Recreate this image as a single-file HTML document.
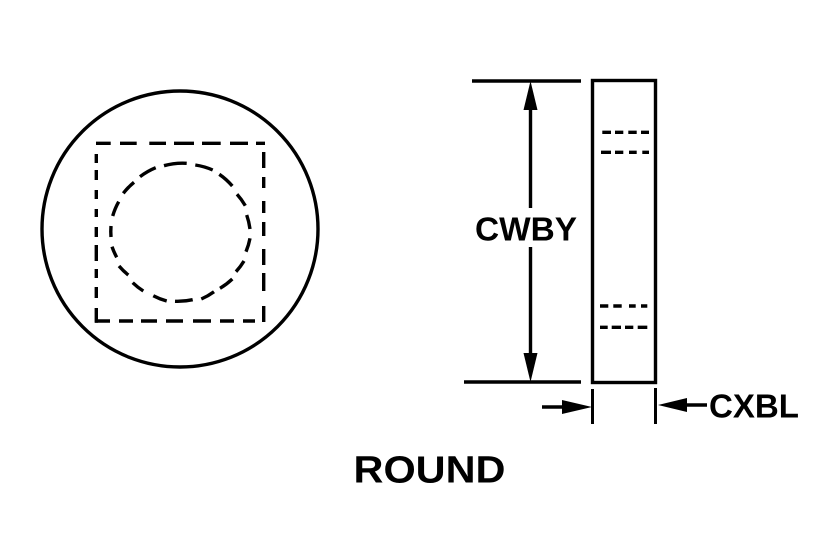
<!DOCTYPE html>
<html>
<head>
<meta charset="utf-8">
<style>
html,body{margin:0;padding:0;background:#fff;}
svg{display:block;}
text{font-family:"Liberation Sans",Arial,sans-serif;font-weight:bold;fill:#000;}
</style>
</head>
<body>
<svg width="828" height="560" viewBox="0 0 828 560" xmlns="http://www.w3.org/2000/svg">
<rect width="828" height="560" fill="#fff"/>
<g fill="none" stroke="#000">
<circle cx="180" cy="229" r="138" stroke-width="3.400"/>
<g stroke-width="3.400">
<path d="M96 143.300H110.700M120 143.300H136.700M149.300 143.300H166M174 143.300H194M202 143.300H220.700M230 143.300H248M256 143.300H265"/>
<path d="M96.300 154V163M96.300 170V180M96.300 190V199M96.300 209V217M96.300 227V237M96.300 245V261M96.300 269V278M96.300 287V298M96.300 308V322.700"/>
<path d="M263.700 152V168M263.700 177V188M263.700 201V213M263.700 222V236M263.700 249V265M263.700 273V291M263.700 306V322"/>
<path d="M95 321H110M119 321H133M141 321H157M166 321H183M193 321H211M220 321H234M243 321H255"/>
</g>
<g stroke-width="3.400">
<path d="M111 237A69 69 0 0 1 111 226"/>
<path d="M112.700 216A69 69 0 0 1 118.700 201.700"/>
<path d="M123.300 193.300A69 69 0 0 1 134 182.300"/>
<path d="M140 176.700A69 69 0 0 1 155.700 167.700"/>
<path d="M164 165.700A69 69 0 0 1 186.700 163.300"/>
<path d="M195.300 165A69 69 0 0 1 212.700 170"/>
<path d="M219.300 174.300A69 69 0 0 1 232.300 186"/>
<path d="M237 194.300A69 69 0 0 1 245.300 205.700"/>
<path d="M246.700 215A69 69 0 0 1 250 229"/>
<path d="M250 238.300A69 69 0 0 1 246 251.700"/>
<path d="M244 261A69 69 0 0 1 236 271.700"/>
<path d="M232.300 279A69 69 0 0 1 220 288.300"/>
<path d="M214 291.700A69 69 0 0 1 201.300 299"/>
<path d="M192.700 299.700A69 69 0 0 1 175 301.300"/>
<path d="M166.700 301A69 69 0 0 1 153.300 295.700"/>
<path d="M143.300 291A69 69 0 0 1 132.700 282.700"/>
<path d="M128.300 275A69 69 0 0 1 119 266"/>
<path d="M116.700 257.300A69 69 0 0 1 112 246.700"/>
</g>
<rect x="592.500" y="80.500" width="63" height="302" stroke-width="3.400"/>
<path d="M472 81H581M464 382H581" stroke-width="3.400"/>
<path d="M530.500 100V208M530.500 247V365" stroke-width="3.400"/>
<path d="M592.500 389V424M655.500 388V424" stroke-width="3"/>
<path d="M542 407H565M685 405H707" stroke-width="3.400"/>
<g stroke-width="3.400">
<path d="M602.300 132.300H611M615 132.300H623.300M628.300 132.300H636.700M641 132.300H649"/>
<path d="M601 152.300H611M615 152.300H623.300M629 152.300H636.700M642.300 152.300H649"/>
<path d="M600 306H608.300M613.300 306H621.700M629 306H635.700M641 306H647.300"/>
<path d="M600 327.300H607.700M611.700 327.300H621M625 327.300H633.300M637.700 327.300H647.300"/>
</g>
</g>
<g fill="#000">
<polygon points="530.500,81 537.500,110 523.500,110"/>
<polygon points="530.500,382 537.500,353 523.500,353"/>
<polygon points="592,407 562,400 562,414"/>
<polygon points="658,405 687,398 687,412"/>
</g>
<text x="475" y="240.500" font-size="33" textLength="102" lengthAdjust="spacingAndGlyphs">CWBY</text>
<text x="709" y="417.500" font-size="33" textLength="90" lengthAdjust="spacingAndGlyphs">CXBL</text>
<text x="353.500" y="482.500" font-size="38" textLength="152" lengthAdjust="spacingAndGlyphs">ROUND</text>
</svg>
</body>
</html>
